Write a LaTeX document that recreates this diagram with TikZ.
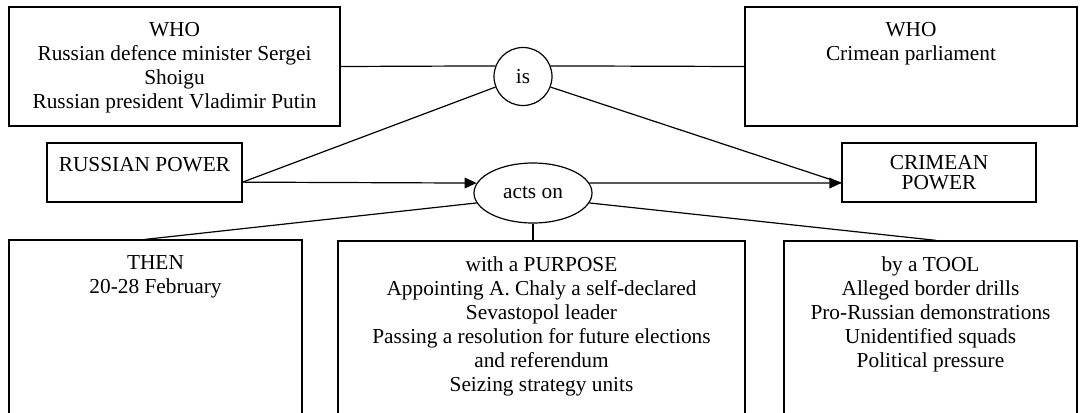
\documentclass[tikz,border=0pt]{standalone}
\usepackage{fontspec}
\setmainfont{Liberation Serif}
\usetikzlibrary{arrows.meta,calc,shapes.geometric}
\begin{document}
\begin{tikzpicture}[x=0.75pt, y=-0.75pt,
  every node/.style={font=\fontsize{16}{18}\selectfont},
  frame/.style={draw, line width=0.9pt, inner sep=0pt},
  caption/.style={align=center, inner sep=0pt, anchor=north},
  link/.style={line width=0.9pt},
  arrowlink/.style={link, -{Triangle[length=9pt,width=8pt]}}]

\useasboundingbox (0,0) rectangle (1085,412);
\clip (0,0) rectangle (1085,412);

% upper row: actors
\node[frame, minimum width=331*0.75pt, minimum height=119*0.75pt] (whoL) at (174.5,66.5) {};
\node[caption] (whoLtext) at ($(whoL.north)+(0,16)$)
  {WHO\\Russian defence minister Sergei\\Shoigu\\Russian president Vladimir Putin};
\node[frame, minimum width=332*0.75pt, minimum height=119*0.75pt] (whoR) at (911,66.5) {};
\node[caption] (whoRtext) at ($(whoR.north)+(0,16)$) {WHO\\Crimean parliament};
\node[frame, circle, minimum size=58*0.75pt] (is) at (523,76.5) {is};

% middle row: powers
\node[frame, minimum width=195*0.75pt, minimum height=59*0.75pt] (rus) at (144.5,172.5) {};
\node[caption] (rustext) at ($(rus.north)+(0,15)$) {RUSSIAN POWER};
\node[frame, minimum width=194*0.75pt, minimum height=59*0.75pt] (crim) at (939,172.5) {};
\node[caption, font=\fontsize{16}{15}\selectfont] (crimtext) at ($(crim.north)+(0,13)$) {CRIMEAN\\POWER};
\node[frame, ellipse, minimum width=118*0.75pt, minimum height=60*0.75pt] (acts) at (533,193) {acts on};

% lower row: circumstances
\node[frame, minimum width=293*0.75pt, minimum height=200*0.75pt] (then) at (155.5,340) {};
\node[caption] (thentext) at ($(then.north)+(0,16)$) {THEN\\20-28 February};
\node[frame, minimum width=407*0.75pt, minimum height=199*0.75pt] (purp) at (541.5,340.5) {};
\node[caption] (purptext) at ($(purp.north)+(0,16)$)
  {with a PURPOSE\\Appointing A. Chaly a self-declared\\Sevastopol leader\\Passing a resolution for future elections\\and referendum\\Seizing strategy units};
\node[frame, minimum width=293*0.75pt, minimum height=199*0.75pt] (tool) at (930.5,340.5) {};
\node[caption] (tooltext) at ($(tool.north)+(0,16)$)
  {by a TOOL\\Alleged border drills\\Pro-Russian demonstrations\\Unidentified squads\\Political pressure};

% connectors
\coordinate (rusout) at ($(rus.east)!0.32!(rus.south east)$);
\coordinate (crimin) at ($(crim.west)!0.35!(crim.south west)$);
\draw[link] (whoL.east) -- (is.159);
\draw[link] (is.21) -- (whoR.west);
\draw[link] (is.201) -- (rusout);
\draw[link] (is.339) -- (crimin);
\draw[arrowlink] (rusout) -- (acts.170);
\draw[arrowlink] (acts.10) -- (crimin);
\draw[link] (acts.190) -- ($(then.north west)!0.464!(then.north east)$);
\draw[link] (acts.south) -- (acts.south |- purp.north);
\draw[link] (acts.350) -- ($(tool.north west)!0.52!(tool.north east)$);
\end{tikzpicture}
\end{document}
